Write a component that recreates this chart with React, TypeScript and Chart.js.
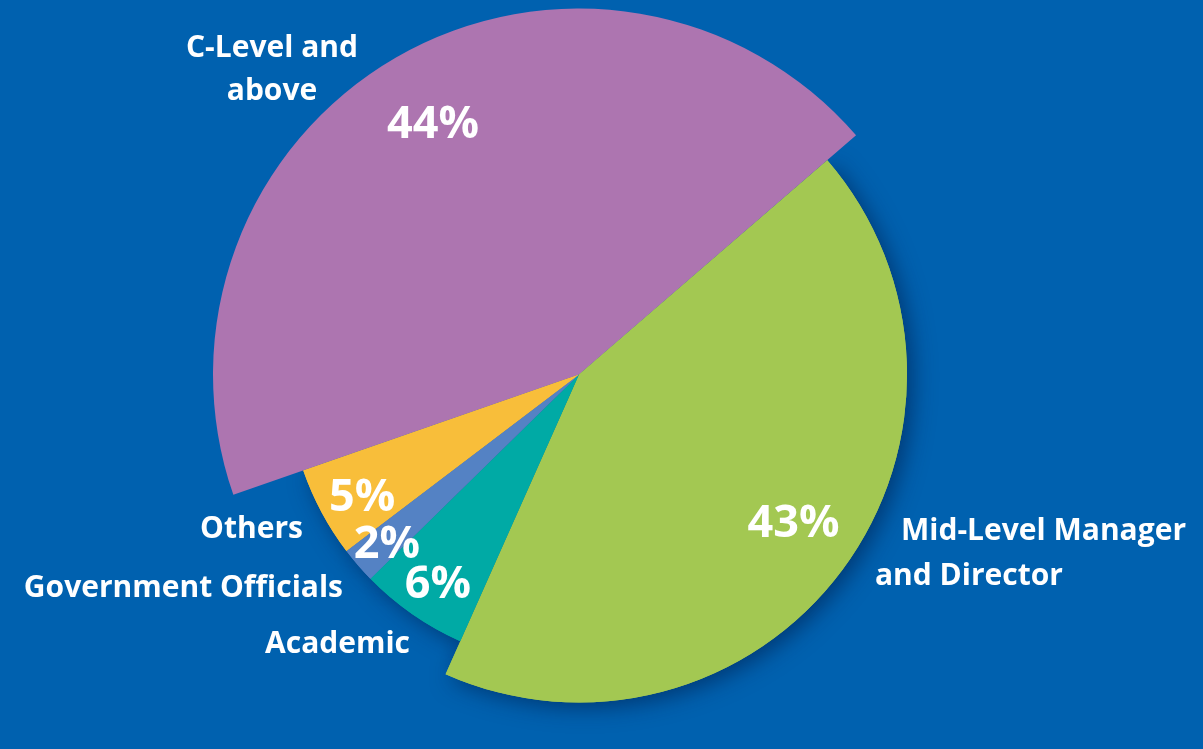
import React, { useEffect, useRef } from "react";
import { Chart, registerables } from "chart.js";

Chart.register(...registerables);

// ---- data ----
const categories: string[][] = [
  ["C-Level and", "above"],
  ["Mid-Level Manager", "and Director"],
  ["Academic"],
  ["Government Officials"],
  ["Others"],
];
const shares: number[] = [44, 43, 6, 2, 5];

// ---- styles ----
const BG = "#0061AF";
const COLORS = ["#AD75B0", "#A3C852", "#00AAA5", "#5482C4", "#F8BE3A"];
const SLICE_RADII = [366, 328, 292, 292, 292];
const SLICE_SHADOW = [false, true, true, true, true];
const PCT_LABEL_R = [292, 260, 251, 255, 248];
const PCT_LABEL_ANGLE_SHIFT = [0, -2.2, -0.6, -0.3, -0.8];
const PCT_FONT_SIZE = 45;
const CAT_FONT_SIZE = 30;
const FONT_FAMILY = "'Open Sans', 'Noto Sans', sans-serif";
// per-category, per-line placement: [x, baseline y, align]
const CAT_LABEL_POS: [number, number, CanvasTextAlign][][] = [
  [
    [272, 57, "center"],
    [272, 100, "center"],
  ],
  [
    [901, 540, "left"],
    [875, 585, "left"],
  ],
  [[410, 653, "right"]],
  [[343, 597, "right"]],
  [[303, 538, "right"]],
];

const slicePlugin = {
  id: "sliceStyle",
  afterDatasetsUpdate(chart: any) {
    const meta = chart.getDatasetMeta(0);
    meta.data.forEach((arc: any, i: number) => {
      arc.outerRadius = SLICE_RADII[i];
    });
  },
  beforeDatasetsDraw(chart: any) {
    const ctx: CanvasRenderingContext2D = chart.ctx;
    const meta = chart.getDatasetMeta(0);
    meta.data.forEach((arc: any, i: number) => {
      if (!SLICE_SHADOW[i]) return;
      ctx.save();
      ctx.shadowColor = "rgba(0, 25, 70, 0.55)";
      ctx.shadowBlur = 22;
      ctx.shadowOffsetX = 6;
      ctx.shadowOffsetY = 5;
      arc.draw(ctx);
      ctx.restore();
    });
  },
  afterDatasetsDraw(chart: any) {
    const ctx: CanvasRenderingContext2D = chart.ctx;
    const meta = chart.getDatasetMeta(0);
    ctx.save();
    ctx.fillStyle = "#ffffff";
    // percentage labels inside slices
    ctx.font = `700 ${PCT_FONT_SIZE}px ${FONT_FAMILY}`;
    ctx.textAlign = "center";
    ctx.textBaseline = "alphabetic";
    meta.data.forEach((arc: any, i: number) => {
      const mid = (arc.startAngle + arc.endAngle) / 2 + (PCT_LABEL_ANGLE_SHIFT[i] * Math.PI) / 180;
      const x = arc.x + Math.cos(mid) * PCT_LABEL_R[i];
      const y = arc.y + Math.sin(mid) * PCT_LABEL_R[i];
      ctx.fillText(`${shares[i]}%`, x, y + PCT_FONT_SIZE * 0.357);
    });
    // category labels
    ctx.font = `700 ${CAT_FONT_SIZE}px ${FONT_FAMILY}`;
    categories.forEach((lines, i) => {
      lines.forEach((line, j) => {
        const [x, y, align] = CAT_LABEL_POS[i][j];
        ctx.textAlign = align;
        ctx.fillText(line, x, y);
      });
    });
    ctx.restore();
  },
};

export default function App() {
  const canvasRef = useRef<HTMLCanvasElement | null>(null);

  useEffect(() => {
    document.body.style.margin = "0";
    document.body.style.background = BG;
    const canvas = canvasRef.current;
    if (!canvas) return;
    const chart = new Chart(canvas, {
      type: "pie",
      data: {
        labels: categories,
        datasets: [
          {
            data: shares,
            backgroundColor: COLORS,
            borderWidth: 0,
            hoverOffset: 0,
          },
        ],
      },
      options: {
        responsive: true,
        maintainAspectRatio: false,
        animation: false,
        events: [],
        rotation: 250.8,
        radius: 366,
        layout: { padding: { left: 0, right: 45, top: 0, bottom: 0 } },
        plugins: {
          legend: { display: false },
          tooltip: { enabled: false },
        },
      } as any,
      plugins: [slicePlugin],
    });
    return () => chart.destroy();
  }, []);

  return (
    <div style={{ width: 1203, height: 749, background: BG, position: "relative" }}>
      <canvas ref={canvasRef} />
    </div>
  );
}
